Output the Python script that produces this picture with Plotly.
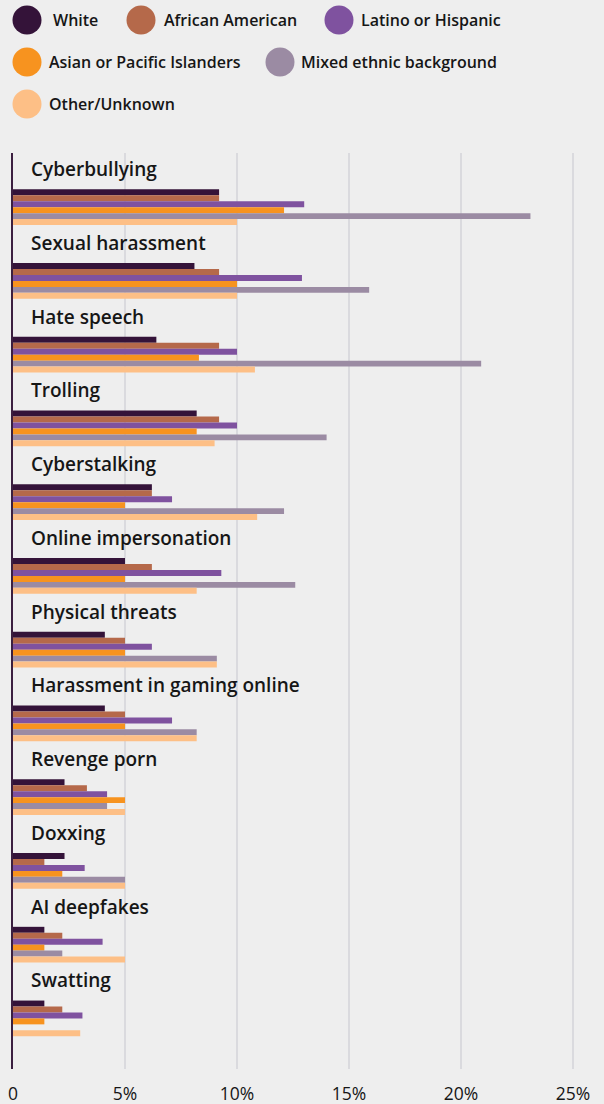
import plotly.graph_objects as go

# Online harassment types, share of respondents by ethnic group (%)
categories = [
    "Cyberbullying", "Sexual harassment", "Hate speech", "Trolling",
    "Cyberstalking", "Online impersonation", "Physical threats",
    "Harassment in gaming online", "Revenge porn", "Doxxing",
    "AI deepfakes", "Swatting",
]

series_names = [
    "White", "African American", "Latino or Hispanic",
    "Asian or Pacific Islanders", "Mixed ethnic background", "Other/Unknown",
]

white = [9.2, 8.1, 6.4, 8.2, 6.2, 5.0, 4.1, 4.1, 2.3, 2.3, 1.4, 1.4]
african_american = [9.2, 9.2, 9.2, 9.2, 6.2, 6.2, 5.0, 5.0, 3.3, 1.4, 2.2, 2.2]
latino_hispanic = [13.0, 12.9, 10.0, 10.0, 7.1, 9.3, 6.2, 7.1, 4.2, 3.2, 4.0, 3.1]
asian_pacific = [12.1, 10.0, 8.3, 8.2, 5.0, 5.0, 5.0, 5.0, 5.0, 2.2, 1.4, 1.4]
mixed_ethnic = [23.1, 15.9, 20.9, 14.0, 12.1, 12.6, 9.1, 8.2, 4.2, 5.0, 2.2, None]
other_unknown = [10.0, 10.0, 10.8, 9.0, 10.9, 8.2, 9.1, 8.2, 5.0, 5.0, 5.0, 3.0]

tick_values = [0, 5, 10, 15, 20, 25]
tick_labels = ["0", "5%", "10%", "15%", "20%", "25%"]

series_values = [white, african_american, latino_hispanic,
                 asian_pacific, mixed_ethnic, other_unknown]
colors = ["#341339", "#b5694a", "#7f529f", "#f7931f", "#9b8ba3", "#fdbf86"]

W, H = 604, 1104
M_L, M_R, M_T, M_B = 13, 0, 153, 35
plot_w = W - M_L - M_R
plot_h = H - M_T - M_B
FONT = "Open Sans"
TEXT = "#161616"

fig = go.Figure()
for name, vals, col in zip(series_names, series_values, colors):
    fig.add_trace(go.Bar(
        y=categories, x=vals, name=name, orientation="h",
        marker=dict(color=col, line=dict(width=0)),
        showlegend=False,
        hovertemplate="%{y}<br>" + name + ": %{x}%<extra></extra>",
    ))


def px_to_paper_x(px):
    return (px - M_L) / plot_w


def px_to_paper_y(py):
    return (H - M_B - py) / plot_h


# category titles above each bar group
annotations = []
for cat in categories:
    annotations.append(dict(
        x=0, y=cat, xref="x", yref="y", text=cat, showarrow=False,
        xanchor="left", yanchor="middle", xshift=16, yshift=38,
        font=dict(family=FONT, size=19, color=TEXT, weight=600),
    ))

# custom legend with round swatches
legend_layout = [  # (circle centre x, text left x, row centre y)
    (27, 51, 20), (141, 162, 20), (339, 359, 20),
    (27, 47, 62), (280, 299, 62),
    (27, 47, 104),
]
shapes = []
R = 14.5
for (cx, tx, cy), name, col in zip(legend_layout, series_names, colors):
    shapes.append(dict(
        type="circle", xref="paper", yref="paper",
        xsizemode="pixel", ysizemode="pixel",
        xanchor=px_to_paper_x(cx), yanchor=px_to_paper_y(cy),
        x0=-R, x1=R, y0=-R, y1=R,
        fillcolor=col, line=dict(width=0),
    ))
    annotations.append(dict(
        x=px_to_paper_x(tx), y=px_to_paper_y(cy), xref="paper", yref="paper",
        text=name, showarrow=False, xanchor="left", yanchor="middle",
        font=dict(family=FONT, size=16, color=TEXT, weight=600),
    ))

n = len(categories)
fig.update_layout(
    width=W, height=H,
    margin=dict(l=M_L, r=M_R, t=M_T, b=M_B, pad=0),
    paper_bgcolor="#eeeeee", plot_bgcolor="#eeeeee",
    barmode="group", bargap=0.516, bargroupgap=0,
    annotations=annotations, shapes=shapes,
    font=dict(family=FONT, color=TEXT),
    xaxis=dict(
        range=[0, plot_w / 22.4], tickvals=tick_values, ticktext=tick_labels,
        showgrid=True, gridcolor="#dadade", gridwidth=1.5,
        zeroline=False, showline=False,
        ticks="outside", ticklen=9, tickcolor="rgba(0,0,0,0)",
        tickfont=dict(family=FONT, size=17.5, color=TEXT, weight=500),
        fixedrange=True,
    ),
    yaxis=dict(
        range=[n - 1 + 0.686, -0.735], showticklabels=False,
        showgrid=False, zeroline=False,
        showline=True, linecolor="#3b1f40", linewidth=1.5,
        fixedrange=True,
    ),
)

fig.write_html("out.html")
